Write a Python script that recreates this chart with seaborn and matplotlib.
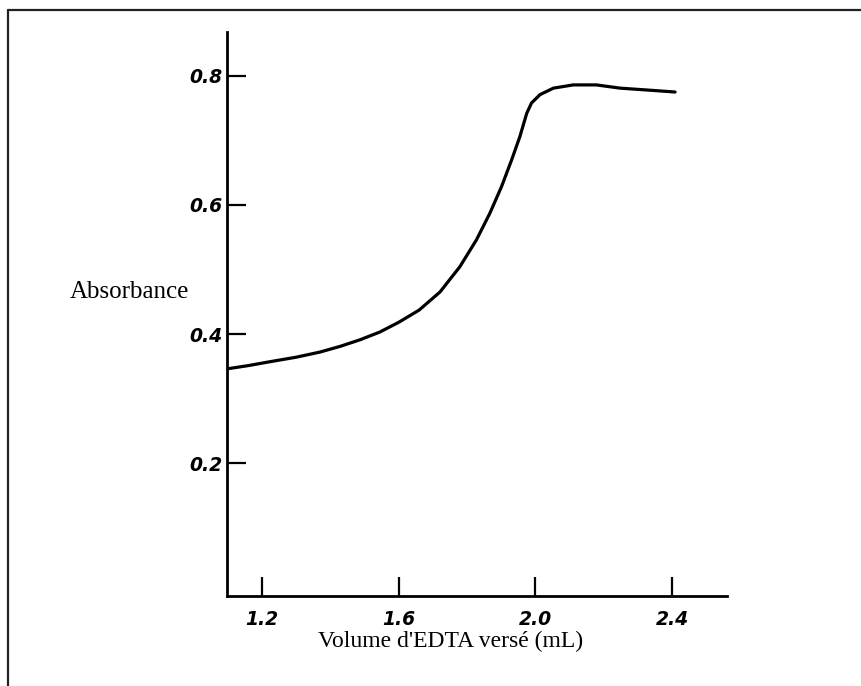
import matplotlib
matplotlib.use("Agg")
import matplotlib.pyplot as plt
from matplotlib.lines import Line2D
import pandas as pd
import seaborn as sns

# Curve (volume in mL, absorbance)
volume = [1.098, 1.16, 1.223, 1.30, 1.37, 1.43, 1.487, 1.545, 1.60, 1.66,
          1.721, 1.779, 1.828, 1.867, 1.901, 1.931, 1.955, 1.975, 1.989,
          2.014, 2.053, 2.111, 2.179, 2.248, 2.33, 2.409]
absorbance = [0.346, 0.351, 0.357, 0.364, 0.372, 0.381, 0.391, 0.403, 0.418,
              0.437, 0.465, 0.504, 0.546, 0.587, 0.628, 0.670, 0.706, 0.742,
              0.758, 0.771, 0.781, 0.786, 0.786, 0.781, 0.778, 0.775]

x_ticks = [1.2, 1.6, 2.0, 2.4]
x_tick_labels = ["1.2", "1.6", "2.0", "2.4"]
y_ticks = [0.2, 0.4, 0.6, 0.8]
y_tick_labels = ["0.2", "0.4", "0.6", "0.8"]

df = pd.DataFrame({"volume": volume, "absorbance": absorbance})

sns.set_style("white")
plt.rcParams["text.color"] = "black"

fig = plt.figure(figsize=(8.61, 6.86), dpi=100)
ax = fig.add_axes([227 / 861, 90 / 686, 500 / 861, 564 / 686])

sns.lineplot(data=df, x="volume", y="absorbance", ax=ax, color="black",
             linewidth=2.3, sort=False, solid_joinstyle="round",
             solid_capstyle="round")

ax.set_xlim(1.098, 2.561)
ax.set_ylim(-0.006, 0.868)

for side in ["top", "right"]:
    ax.spines[side].set_visible(False)
for side in ["left", "bottom"]:
    ax.spines[side].set_linewidth(2.0)
    ax.spines[side].set_color("black")

ax.set_xticks(x_ticks)
ax.set_xticklabels(x_tick_labels)
ax.set_yticks(y_ticks)
ax.set_yticklabels(y_tick_labels)
ax.tick_params(axis="both", direction="in", length=14, width=1.6,
               color="black", labelcolor="black", bottom=True, left=True)
ax.tick_params(axis="x", pad=10)
ax.tick_params(axis="y", pad=3)
for lab in ax.get_xticklabels() + ax.get_yticklabels():
    lab.set_fontfamily("DejaVu Sans")
    lab.set_fontweight("bold")
    lab.set_fontstyle("italic")
    lab.set_fontsize(13.5)

ax.set_xlabel("Volume d'EDTA versé (mL)", fontfamily="Liberation Serif",
              fontsize=17, color="black")
ax.xaxis.set_label_coords(0.448, -0.08)
ax.xaxis.label.set_va("center")

ax.set_ylabel("Absorbance", fontfamily="Liberation Serif", fontsize=18,
              rotation=0, color="black")
ax.yaxis.set_label_coords(-0.196, 0.539)
ax.yaxis.label.set_va("center")
ax.yaxis.label.set_ha("center")

# frame seen only on the left and top of the picture
bx, by = 8 / 861, 1 - 10 / 686
fig.add_artist(Line2D([bx, bx], [0, by], transform=fig.transFigure,
                      color="#222222", linewidth=1.6))
fig.add_artist(Line2D([bx, 1], [by, by], transform=fig.transFigure,
                      color="#222222", linewidth=1.6))

fig.savefig("out.png", dpi=100)
